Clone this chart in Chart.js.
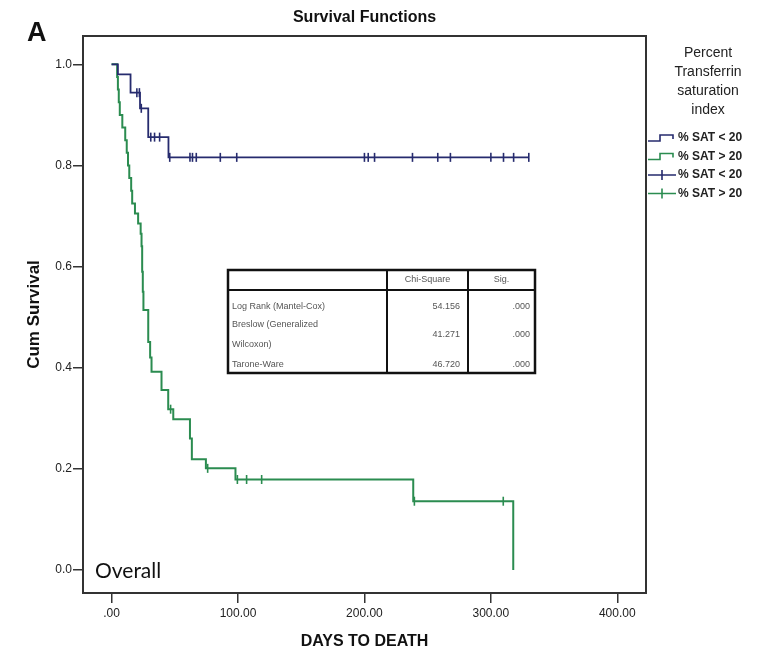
<!DOCTYPE html>
<html>
<head>
<meta charset="utf-8">
<script src="https://cdn.jsdelivr.net/npm/chart.js@4/dist/chart.umd.min.js"></script>
<style>
  html, body { margin: 0; padding: 0; background: #fff; }
  #wrap { position: relative; width: 772px; height: 659px; }
</style>
</head>
<body>
<div id="wrap"><canvas id="km" width="772" height="659"></canvas></div>
<script>
// Kaplan-Meier estimates: event days and survival after each step
const lowSatDays      = [0, 5, 15, 22.5, 29, 45, 330];
const lowSatSurvival  = [1.0, 0.98, 0.944, 0.913, 0.856, 0.816, 0.816];
const lowSatCensored  = [20, 22, 23.5, 31, 34, 38, 46, 62, 64, 67, 86, 99, 200, 203, 208, 238, 258, 268, 300, 310, 318, 330];

const highSatDays     = [0, 4.4, 5, 5.7, 6.5, 8.5, 10.8, 12, 13, 14, 15.5, 16.3, 18.5, 21, 23, 23.7, 24.2, 24.7, 25.2, 29, 30.5, 31.6, 39.5, 44.8, 48.8, 62, 63.5, 74.6, 98, 238.6, 317.7];
const highSatSurvival = [1.0, 0.975, 0.95, 0.925, 0.9, 0.875, 0.85, 0.825, 0.8, 0.775, 0.75, 0.725, 0.705, 0.685, 0.665, 0.64, 0.59, 0.55, 0.514, 0.451, 0.42, 0.392, 0.356, 0.318, 0.298, 0.26, 0.219, 0.201, 0.179, 0.136, 0.0];
const highSatCensored = [46.7, 76, 99.5, 106.8, 118.7, 239.5, 309.8];

const groupLabels = ['% SAT < 20', '% SAT > 20'];
const legendTitle = ['Percent', 'Transferrin', 'saturation', 'index'];

const xTickValues = [0, 100, 200, 300, 400];
const xTickLabels = ['.00', '100.00', '200.00', '300.00', '400.00'];
const yTickValues = [0, 0.2, 0.4, 0.6, 0.8, 1.0];
const yTickLabels = ['0.0', '0.2', '0.4', '0.6', '0.8', '1.0'];

// Overall comparison table
const testNames  = [['Log Rank (Mantel-Cox)'], ['Breslow (Generalized', 'Wilcoxon)'], ['Tarone-Ware']];
const chiSquare  = ['54.156', '41.271', '46.720'];
const sigValues  = ['.000', '.000', '.000'];
const tableHeads = ['Chi-Square', 'Sig.'];

const BLUE = '#262b6e';
const GREEN = '#2b8c50';

function stepPoints(days, surv) {
  return days.map((d, i) => ({ x: d, y: surv[i] }));
}
function survivalAt(days, surv, t) {
  let s = surv[0];
  for (let i = 0; i < days.length; i++) if (days[i] <= t) s = surv[i];
  return s;
}
function censorPoints(days, surv, marks) {
  return marks.map(t => ({ x: t, y: survivalAt(days, surv, t) }));
}

const decorations = {
  id: 'decorations',
  afterDraw(chart) {
    const { ctx, chartArea: a } = chart;
    ctx.save();
    // plot frame
    ctx.strokeStyle = '#333';
    ctx.lineWidth = 2;
    ctx.strokeRect(a.left, a.top, a.right - a.left, a.bottom - a.top);

    // panel letter and heading
    ctx.fillStyle = '#111';
    ctx.textBaseline = 'alphabetic';
    ctx.textAlign = 'left';
    ctx.font = 'bold 27px "Liberation Sans", Arial, sans-serif';
    ctx.fillText('A', 27, 41);
    ctx.textAlign = 'center';
    ctx.textBaseline = 'middle';
    ctx.font = 'bold 16px "Liberation Sans", Arial, sans-serif';
    ctx.fillText('Survival Functions', (a.left + a.right) / 2, 18);

    // "Overall" label inside the plot
    ctx.textAlign = 'left';
    ctx.textBaseline = 'alphabetic';
    ctx.fillStyle = '#111';
    ctx.font = '21px Lato, "Open Sans", sans-serif';
    ctx.fillText('Overall', a.left + 12, a.bottom - 15);

    // legend
    ctx.fillStyle = '#222';
    ctx.textAlign = 'center';
    ctx.textBaseline = 'middle';
    ctx.font = '14px "Liberation Sans", Arial, sans-serif';
    legendTitle.forEach((t, i) => ctx.fillText(t, 708, 53 + i * 19));

    const rows = [138, 156.5, 175, 193.5];
    const cols = [BLUE, GREEN, BLUE, GREEN];
    const names = [groupLabels[0], groupLabels[1], groupLabels[0], groupLabels[1]];
    ctx.font = 'bold 12px "Liberation Sans", Arial, sans-serif';
    ctx.textAlign = 'left';
    rows.forEach((y, i) => {
      ctx.strokeStyle = cols[i];
      ctx.lineWidth = 1.6;
      ctx.beginPath();
      if (i < 2) {
        ctx.moveTo(648, y + 3);
        ctx.lineTo(660, y + 3);
        ctx.lineTo(660, y - 3);
        ctx.lineTo(673, y - 3);
        ctx.lineTo(673, y + 1);
      } else {
        ctx.moveTo(648, y);
        ctx.lineTo(676, y);
        ctx.moveTo(662, y - 5);
        ctx.lineTo(662, y + 5);
      }
      ctx.stroke();
      ctx.fillStyle = '#222';
      ctx.fillText(names[i], 678, y);
    });

    // test table
    const L = 228, T = 270, R = 535, B = 373, H = 290, C1 = 387, C2 = 468;
    ctx.fillStyle = '#fff';
    ctx.fillRect(L, T, R - L, B - T);
    ctx.strokeStyle = '#111';
    ctx.lineWidth = 2.5;
    ctx.strokeRect(L, T, R - L, B - T);
    ctx.lineWidth = 2;
    ctx.beginPath();
    ctx.moveTo(L, H); ctx.lineTo(R, H);
    ctx.moveTo(C1, T); ctx.lineTo(C1, B);
    ctx.moveTo(C2, T); ctx.lineTo(C2, B);
    ctx.stroke();

    ctx.fillStyle = '#555';
    ctx.font = '9px "Liberation Sans", Arial, sans-serif';
    ctx.textAlign = 'center';
    ctx.fillText(tableHeads[0], (C1 + C2) / 2, 280);
    ctx.fillText(tableHeads[1], (C2 + R) / 2, 280);
    const rowY = [[307], [325, 345], [365]];
    const valY = [307, 335, 365];
    testNames.forEach((lines, i) => {
      ctx.textAlign = 'left';
      lines.forEach((ln, j) => ctx.fillText(ln, L + 4, rowY[i][j]));
      ctx.textAlign = 'right';
      ctx.fillText(chiSquare[i], C1 + 73, valY[i]);
      ctx.fillText(sigValues[i], R - 5, valY[i]);
    });
    ctx.restore();
  }
};

const fontTick = { family: '"Liberation Sans", Arial, sans-serif', size: 12 };

new Chart(document.getElementById('km'), {
  type: 'line',
  data: {
    datasets: [
      {
        label: groupLabels[0],
        data: stepPoints(lowSatDays, lowSatSurvival),
        stepped: true,
        borderColor: BLUE,
        borderWidth: 1.8,
        pointRadius: 0,
        fill: false
      },
      {
        label: groupLabels[1],
        data: stepPoints(highSatDays, highSatSurvival),
        stepped: true,
        borderColor: GREEN,
        borderWidth: 2,
        pointRadius: 0,
        fill: false
      },
      {
        label: groupLabels[0] + ' censored',
        type: 'scatter',
        data: censorPoints(lowSatDays, lowSatSurvival, lowSatCensored),
        showLine: false,
        pointStyle: 'line',
        rotation: 90,
        pointRadius: 4.5,
        borderColor: BLUE,
        pointBorderWidth: 1.6,
        pointHoverRadius: 4.5
      },
      {
        label: groupLabels[1] + ' censored',
        type: 'scatter',
        data: censorPoints(highSatDays, highSatSurvival, highSatCensored),
        showLine: false,
        pointStyle: 'line',
        rotation: 90,
        pointRadius: 4.5,
        borderColor: GREEN,
        pointBorderWidth: 1.6,
        pointHoverRadius: 4.5
      }
    ]
  },
  options: {
    responsive: false,
    animation: false,
    devicePixelRatio: 1,
    layout: { padding: { left: 0, right: 126, top: 36, bottom: 0 } },
    plugins: { legend: { display: false }, tooltip: { enabled: false }, title: { display: false } },
    scales: {
      x: {
        type: 'linear',
        min: -22.6,
        max: 422.7,
        afterFit(s) { s.height = 66; },
        afterBuildTicks(s) { s.ticks = xTickValues.map(v => ({ value: v })); },
        ticks: {
          color: '#222',
          font: fontTick,
          padding: 3,
          maxRotation: 0,
          callback: (v) => xTickLabels[xTickValues.indexOf(v)]
        },
        grid: { drawOnChartArea: false, drawTicks: true, tickLength: 10, color: '#333', lineWidth: 1.5 },
        border: { display: false },
        title: {
          display: true,
          text: 'DAYS TO DEATH',
          color: '#111',
          font: { family: '"Liberation Sans", Arial, sans-serif', size: 16, weight: 'bold' },
          padding: { top: 0, bottom: 8 }
        }
      },
      y: {
        type: 'linear',
        min: -0.0455,
        max: 1.056,
        afterFit(s) { s.width = 83; },
        afterBuildTicks(s) { s.ticks = yTickValues.map(v => ({ value: v })); },
        ticks: {
          color: '#222',
          font: fontTick,
          padding: 1,
          callback: (v) => yTickLabels[yTickValues.findIndex(t => Math.abs(t - v) < 1e-9)]
        },
        grid: { drawOnChartArea: false, drawTicks: true, tickLength: 10, color: '#333', lineWidth: 1.5 },
        border: { display: false },
        title: {
          display: true,
          text: 'Cum Survival',
          color: '#111',
          font: { family: '"Liberation Sans", Arial, sans-serif', size: 17, weight: 'bold' },
          padding: { top: 24, bottom: 0 }
        }
      }
    }
  },
  plugins: [decorations]
});
</script>
</body>
</html>
